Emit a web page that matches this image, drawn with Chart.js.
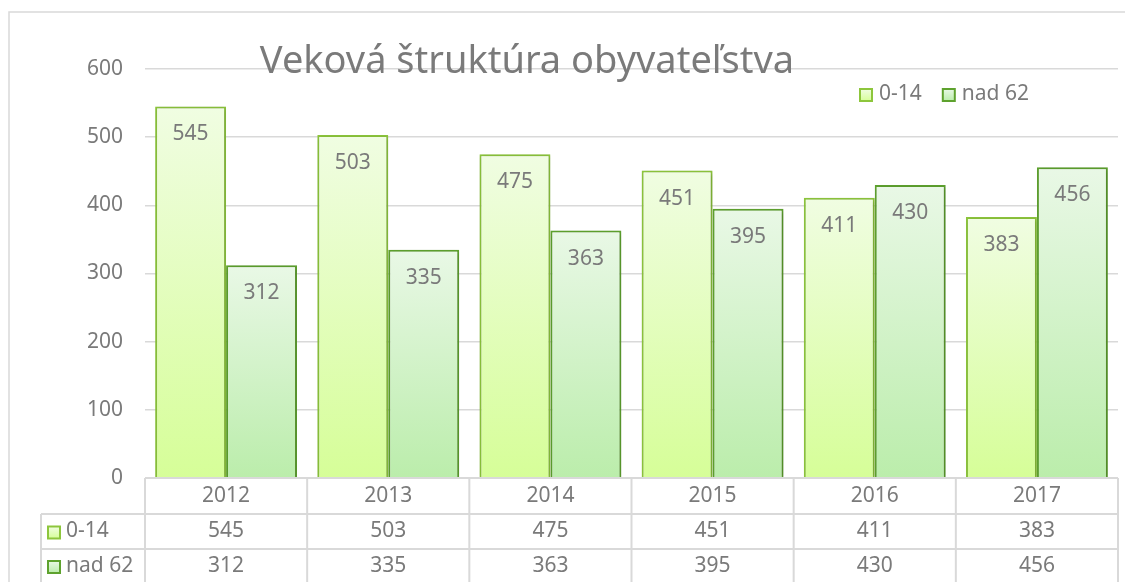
<!DOCTYPE html>
<html>
<head>
<meta charset="utf-8">
<script src="https://cdn.jsdelivr.net/npm/chart.js"></script>
<style>
    body { margin: 0; background: #fff; }
    #wrap { width: 1125px; height: 582px; position: relative; }
</style>
</head>
<body>
<div id="wrap"><canvas id="ageChart"></canvas></div>
<script>
// data
const years = ['2012', '2013', '2014', '2015', '2016', '2017'];
const kids = [545, 503, 475, 451, 411, 383];
const seniors = [312, 335, 363, 395, 430, 456];
const seriesNames = ['0-14', 'nad 62'];
const chartTitle = 'Veková štruktúra obyvateľstva';

const FONT = '"Noto Sans", sans-serif';
const GREY = '#7a7a7a';
const LINE = '#d9d9d9';

// per-bar vertical gradient (light at the top, stronger at the base)
function barFill(topColor, bottomColor) {
    return function (ctx) {
        const chart = ctx.chart;
        const area = chart.chartArea;
        if (!area || ctx.type !== 'data') return bottomColor;
        const y = chart.scales.y.getPixelForValue(ctx.raw);
        const g = chart.ctx.createLinearGradient(0, y, 0, area.bottom);
        g.addColorStop(0, topColor);
        g.addColorStop(1, bottomColor);
        return g;
    };
}

const fills = [['#f0fde2', '#d6fe98'], ['#e9f8e6', '#bbedab']];
const borders = ['#8dc63c', '#5ea22e'];

// soft shadow behind the bars
const shadowPlugin = {
    id: 'barShadow',
    beforeDatasetsDraw(chart) {
        const c = chart.ctx;
        c.save();
        c.shadowColor = 'rgba(0,0,0,0.22)';
        c.shadowBlur = 4;
        c.shadowOffsetX = 1;
        c.shadowOffsetY = 1;
    },
    afterDatasetsDraw(chart) {
        chart.ctx.restore();
    }
};

// title, legend, data labels and the data table under the axis
const extrasPlugin = {
    id: 'extras',
    afterDraw(chart) {
        const c = chart.ctx;
        const area = chart.chartArea;
        const xs = chart.scales.x;
        c.save();

        // outer frame
        c.strokeStyle = LINE;
        c.lineWidth = 1.5;
        c.beginPath();
        c.moveTo(9, 582);
        c.lineTo(9, 12);
        c.lineTo(1125, 12);
        c.stroke();

        // title
        c.fillStyle = GREY;
        c.font = '38px ' + FONT;
        c.textAlign = 'center';
        c.textBaseline = 'alphabetic';
        c.fillText(chartTitle, 527, 73);

        // legend
        c.font = '21px ' + FONT;
        c.textAlign = 'left';
        c.textBaseline = 'middle';
        let lx = 860;
        chart.data.datasets.forEach((ds, i) => {
            drawKey(c, lx, 95, i);
            c.fillStyle = GREY;
            c.fillText(ds.label, lx + 19, 94);
            lx += 19 + c.measureText(ds.label).width + 21;
        });

        // value labels inside the bars
        c.textAlign = 'center';
        c.fillStyle = GREY;
        chart.data.datasets.forEach((ds, i) => {
            chart.getDatasetMeta(i).data.forEach((bar, j) => {
                c.fillText(String(ds.data[j]), bar.x, bar.y + 28);
            });
        });

        // data table
        const rows = [area.bottom, area.bottom + 36, area.bottom + 71, 583];
        const catW = (area.right - area.left) / years.length;
        c.strokeStyle = LINE;
        c.lineWidth = 2;
        c.beginPath();
        c.moveTo(area.left, rows[0]);
        c.lineTo(area.right, rows[0]);
        c.moveTo(41, rows[1]);
        c.lineTo(area.right, rows[1]);
        c.moveTo(41, rows[2]);
        c.lineTo(area.right, rows[2]);
        c.moveTo(41, rows[1]);
        c.lineTo(41, 582);
        for (let i = 0; i <= years.length; i++) {
            const bx = area.left + i * catW;
            c.moveTo(bx, rows[0]);
            c.lineTo(bx, 582);
        }
        c.stroke();

        c.fillStyle = GREY;
        c.textAlign = 'center';
        years.forEach((yr, j) => {
            const cx = xs.getPixelForValue(j);
            c.fillText(yr, cx, (rows[0] + rows[1]) / 2);
            chart.data.datasets.forEach((ds, i) => {
                c.fillText(String(ds.data[j]), cx, (rows[i + 1] + rows[i + 2]) / 2);
            });
        });
        chart.data.datasets.forEach((ds, i) => {
            const cy = (rows[i + 1] + rows[i + 2]) / 2;
            drawKey(c, 48, cy + 1, i);
            c.fillStyle = GREY;
            c.textAlign = 'left';
            c.fillText(ds.label, 66, cy);
        });

        c.restore();
    }
};

function drawKey(c, x, cy, i) {
    const g = c.createLinearGradient(0, cy - 6, 0, cy + 6);
    g.addColorStop(0, fills[i][0]);
    g.addColorStop(1, fills[i][1]);
    c.fillStyle = g;
    c.fillRect(x, cy - 6, 12, 12);
    c.strokeStyle = borders[i];
    c.lineWidth = 2;
    c.strokeRect(x, cy - 6, 12, 12);
}

function initializeChart() {
    const canvas = document.getElementById('ageChart');
    new Chart(canvas.getContext('2d'), {
        type: 'bar',
        data: {
            labels: years,
            datasets: [
                {
                    label: seriesNames[0],
                    data: kids,
                    backgroundColor: barFill(fills[0][0], fills[0][1]),
                    borderColor: borders[0],
                    borderWidth: 2,
                    barPercentage: 1,
                    categoryPercentage: 0.875
                },
                {
                    label: seriesNames[1],
                    data: seniors,
                    backgroundColor: barFill(fills[1][0], fills[1][1]),
                    borderColor: borders[1],
                    borderWidth: 2,
                    barPercentage: 1,
                    categoryPercentage: 0.875
                }
            ]
        },
        options: {
            responsive: true,
            maintainAspectRatio: false,
            animation: false,
            layout: { padding: { top: 69, right: 7, bottom: 104, left: 0 } },
            plugins: {
                legend: { display: false },
                title: { display: false },
                tooltip: { enabled: false }
            },
            scales: {
                x: { display: false },
                y: {
                    min: 0,
                    max: 600,
                    ticks: {
                        stepSize: 100,
                        padding: 22,
                        color: GREY,
                        font: { family: FONT, size: 21 }
                    },
                    grid: { color: LINE, lineWidth: 1.5, drawTicks: false },
                    border: { display: false },
                    afterFit(scale) { scale.width = 145; }
                }
            }
        },
        plugins: [shadowPlugin, extrasPlugin]
    });
}

window.onload = function () {
    initializeChart();
};
</script>
</body>
</html>
